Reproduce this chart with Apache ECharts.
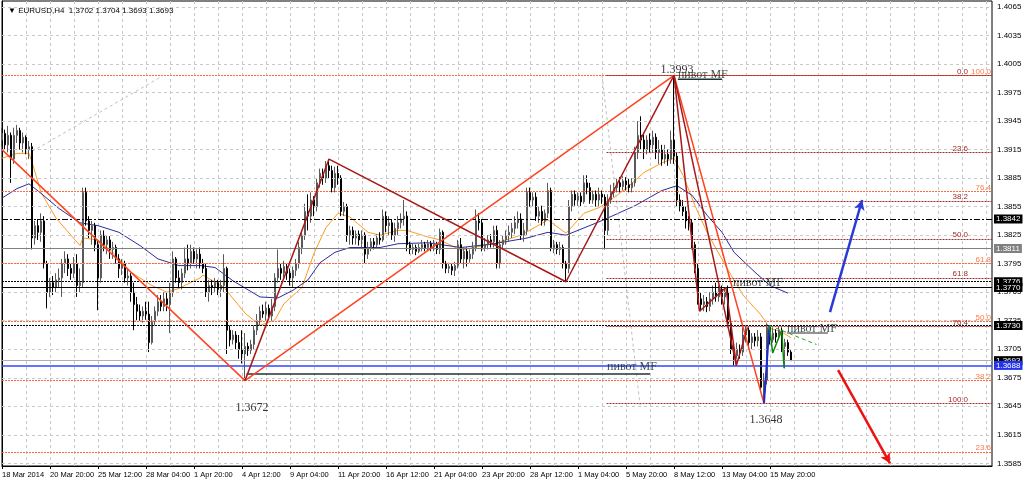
<!DOCTYPE html>
<html><head><meta charset="utf-8">
<script src="https://cdn.jsdelivr.net/npm/echarts@6/dist/echarts.min.js"></script>
<style>html,body{margin:0;padding:0;background:#fff}#c{width:1024px;height:482px}</style>
</head><body><div id="c"></div>
<script>
// ---------- DATA ----------
const title = 'EURUSD,H4  1.3702 1.3704 1.3693 1.3693';
const tickLabels = ['18 Mar 2014','20 Mar 20:00','25 Mar 12:00','28 Mar 04:00','1 Apr 20:00','4 Apr 12:00','9 Apr 04:00','11 Apr 20:00','16 Apr 12:00','21 Apr 04:00','23 Apr 20:00','28 Apr 12:00','1 May 04:00','5 May 20:00','8 May 12:00','13 May 04:00','15 May 20:00'];
const priceTicks = [1.3585,1.3615,1.3645,1.3675,1.3705,1.3735,1.3765,1.3795,1.3825,1.3855,1.3885,1.3915,1.3945,1.3975,1.4005,1.4035,1.4065];
// [open, close, low, high]
const ohlc = [
[1.3925,1.3932,1.3918,1.3938],[1.3932,1.3920,1.3915,1.3936],[1.3920,1.3930,1.3912,1.3940],[1.3930,1.3905,1.3880,1.3933],
[1.3905,1.3930,1.3900,1.3938],[1.3930,1.3935,1.3922,1.3941],[1.3935,1.3922,1.3915,1.3938],[1.3922,1.3928,1.3912,1.3933],
[1.3928,1.3915,1.3910,1.3930],[1.3915,1.3918,1.3905,1.3924],[1.3918,1.3822,1.3810,1.3922],[1.3822,1.3835,1.3815,1.3840],
[1.3835,1.3828,1.3820,1.3842],[1.3828,1.3840,1.3818,1.3848],[1.3840,1.3795,1.3790,1.3845],[1.3795,1.3765,1.3748,1.3798],
[1.3765,1.3775,1.3760,1.3780],[1.3775,1.3770,1.3762,1.3782],[1.3770,1.3778,1.3765,1.3785],[1.3778,1.3780,1.3770,1.3790],
[1.3780,1.3795,1.3760,1.3800],[1.3795,1.3800,1.3785,1.3808],[1.3800,1.3790,1.3782,1.3805],[1.3790,1.3785,1.3778,1.3795],
[1.3785,1.3795,1.3780,1.3802],[1.3795,1.3772,1.3760,1.3805],[1.3772,1.3775,1.3765,1.3790],[1.3775,1.3870,1.3770,1.3875],
[1.3870,1.3840,1.3835,1.3875],[1.3840,1.3830,1.3822,1.3845],[1.3830,1.3835,1.3815,1.3840],[1.3835,1.3815,1.3808,1.3838],
[1.3815,1.3780,1.3746,1.3820],[1.3780,1.3825,1.3775,1.3830],[1.3825,1.3815,1.3808,1.3830],[1.3815,1.3820,1.3805,1.3825],
[1.3820,1.3810,1.3800,1.3824],[1.3810,1.3812,1.3800,1.3818],[1.3812,1.3800,1.3795,1.3815],[1.3800,1.3790,1.3780,1.3805],
[1.3790,1.3795,1.3783,1.3800],[1.3795,1.3780,1.3775,1.3798],[1.3780,1.3782,1.3772,1.3790],[1.3782,1.3765,1.3755,1.3785],
[1.3765,1.3752,1.3725,1.3775],[1.3752,1.3745,1.3735,1.3760],[1.3745,1.3740,1.3735,1.3752],[1.3740,1.3745,1.3733,1.3750],
[1.3745,1.3742,1.3736,1.3755],[1.3742,1.3712,1.3702,1.3755],[1.3712,1.3735,1.3710,1.3740],[1.3735,1.3745,1.3730,1.3750],
[1.3745,1.3755,1.3740,1.3762],[1.3755,1.3750,1.3745,1.3762],[1.3750,1.3758,1.3745,1.3765],[1.3758,1.3752,1.3745,1.3765],
[1.3752,1.3765,1.3722,1.3775],[1.3765,1.3800,1.3760,1.3808],[1.3800,1.3780,1.3775,1.3802],[1.3780,1.3775,1.3770,1.3788],
[1.3775,1.3785,1.3768,1.3790],[1.3785,1.3800,1.3780,1.3812],[1.3800,1.3795,1.3788,1.3815],[1.3795,1.3808,1.3790,1.3815],
[1.3808,1.3800,1.3795,1.3812],[1.3800,1.3805,1.3790,1.3810],[1.3805,1.3795,1.3790,1.3812],[1.3795,1.3790,1.3785,1.3800],
[1.3790,1.3765,1.3760,1.3795],[1.3765,1.3772,1.3755,1.3778],[1.3772,1.3770,1.3762,1.3778],[1.3770,1.3775,1.3765,1.3780],
[1.3775,1.3768,1.3762,1.3778],[1.3768,1.3772,1.3760,1.3778],[1.3772,1.3790,1.3765,1.3805],[1.3790,1.3725,1.3700,1.3792],
[1.3725,1.3715,1.3708,1.3730],[1.3715,1.3720,1.3710,1.3725],[1.3720,1.3712,1.3705,1.3724],[1.3712,1.3705,1.3695,1.3720],
[1.3705,1.3700,1.3690,1.3725],[1.3700,1.3708,1.3672,1.3722],[1.3708,1.3704,1.3698,1.3712],[1.3704,1.3710,1.3700,1.3715],
[1.3710,1.3725,1.3705,1.3730],[1.3725,1.3735,1.3720,1.3742],[1.3735,1.3745,1.3730,1.3750],[1.3745,1.3742,1.3738,1.3752],
[1.3742,1.3748,1.3735,1.3755],[1.3748,1.3740,1.3735,1.3752],[1.3740,1.3750,1.3735,1.3758],[1.3750,1.3780,1.3745,1.3785],
[1.3780,1.3790,1.3775,1.3810],[1.3790,1.3785,1.3778,1.3795],[1.3785,1.3792,1.3780,1.3798],[1.3792,1.3785,1.3778,1.3795],
[1.3785,1.3780,1.3772,1.3790],[1.3780,1.3788,1.3770,1.3792],[1.3788,1.3795,1.3782,1.3800],[1.3795,1.3812,1.3790,1.3818],
[1.3812,1.3825,1.3805,1.3830],[1.3825,1.3850,1.3820,1.3858],[1.3850,1.3845,1.3830,1.3868],[1.3845,1.3862,1.3838,1.3870],
[1.3862,1.3855,1.3845,1.3866],[1.3855,1.3880,1.3850,1.3885],[1.3880,1.3890,1.3875,1.3895],[1.3890,1.3885,1.3878,1.3895],
[1.3885,1.3898,1.3880,1.3903],[1.3898,1.3893,1.3885,1.3905],[1.3893,1.3875,1.3870,1.3898],[1.3875,1.3890,1.3870,1.3897],
[1.3890,1.3885,1.3878,1.3898],[1.3885,1.3850,1.3845,1.3888],[1.3850,1.3855,1.3845,1.3860],[1.3855,1.3825,1.3818,1.3858],
[1.3825,1.3830,1.3815,1.3835],[1.3830,1.3822,1.3815,1.3834],[1.3822,1.3826,1.3815,1.3830],[1.3826,1.3820,1.3814,1.3830],
[1.3820,1.3825,1.3812,1.3830],[1.3825,1.3805,1.3795,1.3828],[1.3805,1.3812,1.3800,1.3818],[1.3812,1.3818,1.3808,1.3822],
[1.3818,1.3815,1.3810,1.3822],[1.3815,1.3822,1.3812,1.3826],[1.3822,1.3820,1.3815,1.3828],[1.3820,1.3845,1.3818,1.3852],
[1.3845,1.3835,1.3828,1.3850],[1.3835,1.3838,1.3825,1.3845],[1.3838,1.3825,1.3820,1.3842],[1.3825,1.3832,1.3818,1.3838],
[1.3832,1.3838,1.3825,1.3845],[1.3838,1.3842,1.3832,1.3848],[1.3842,1.3845,1.3835,1.3862],[1.3845,1.3815,1.3808,1.3850],
[1.3815,1.3810,1.3805,1.3818],[1.3810,1.3812,1.3805,1.3816],[1.3812,1.3808,1.3804,1.3815],[1.3808,1.3812,1.3806,1.3816],
[1.3812,1.3815,1.3808,1.3820],[1.3815,1.3812,1.3808,1.3818],[1.3812,1.3816,1.3809,1.3820],[1.3816,1.3813,1.3808,1.3819],
[1.3813,1.3815,1.3808,1.3820],[1.3815,1.3810,1.3805,1.3818],[1.3810,1.3828,1.3805,1.3832],[1.3828,1.3795,1.3790,1.3830],
[1.3795,1.3790,1.3785,1.3798],[1.3790,1.3792,1.3785,1.3796],[1.3792,1.3788,1.3783,1.3795],[1.3788,1.3793,1.3782,1.3797],
[1.3793,1.3815,1.3790,1.3820],[1.3815,1.3800,1.3795,1.3822],[1.3800,1.3808,1.3790,1.3812],[1.3808,1.3800,1.3792,1.3812],
[1.3800,1.3805,1.3796,1.3810],[1.3805,1.3812,1.3800,1.3818],[1.3812,1.3840,1.3808,1.3852],[1.3840,1.3838,1.3830,1.3848],
[1.3838,1.3812,1.3808,1.3842],[1.3812,1.3815,1.3808,1.3822],[1.3815,1.3820,1.3810,1.3825],[1.3820,1.3818,1.3812,1.3826],
[1.3818,1.3830,1.3812,1.3835],[1.3830,1.3795,1.3790,1.3835],[1.3795,1.3815,1.3790,1.3820],[1.3815,1.3820,1.3810,1.3825],
[1.3820,1.3825,1.3815,1.3830],[1.3825,1.3828,1.3818,1.3835],[1.3828,1.3832,1.3822,1.3838],[1.3832,1.3838,1.3826,1.3845],
[1.3838,1.3842,1.3832,1.3850],[1.3842,1.3825,1.3820,1.3848],[1.3825,1.3830,1.3818,1.3838],[1.3830,1.3870,1.3825,1.3875],
[1.3870,1.3862,1.3855,1.3875],[1.3862,1.3865,1.3855,1.3870],[1.3865,1.3845,1.3840,1.3870],[1.3845,1.3850,1.3838,1.3855],
[1.3850,1.3840,1.3835,1.3856],[1.3840,1.3848,1.3835,1.3852],[1.3848,1.3872,1.3843,1.3880],[1.3872,1.3812,1.3808,1.3875],
[1.3812,1.3815,1.3806,1.3820],[1.3815,1.3810,1.3805,1.3818],[1.3810,1.3812,1.3804,1.3818],[1.3812,1.3795,1.3790,1.3815],
[1.3795,1.3790,1.3776,1.3798],[1.3790,1.3855,1.3785,1.3862],[1.3855,1.3868,1.3850,1.3872],[1.3868,1.3862,1.3856,1.3872],
[1.3862,1.3866,1.3856,1.3870],[1.3866,1.3860,1.3855,1.3870],[1.3860,1.3880,1.3858,1.3888],[1.3880,1.3875,1.3868,1.3888],
[1.3875,1.3862,1.3858,1.3880],[1.3862,1.3868,1.3858,1.3872],[1.3868,1.3862,1.3855,1.3872],[1.3862,1.3868,1.3855,1.3875],
[1.3868,1.3865,1.3858,1.3872],[1.3865,1.3830,1.3810,1.3868],[1.3830,1.3862,1.3825,1.3868],[1.3862,1.3870,1.3858,1.3878],
[1.3870,1.3875,1.3865,1.3880],[1.3875,1.3880,1.3870,1.3885],[1.3880,1.3876,1.3870,1.3886],[1.3876,1.3882,1.3872,1.3887],
[1.3882,1.3878,1.3872,1.3886],[1.3878,1.3875,1.3870,1.3884],[1.3875,1.3880,1.3870,1.3885],[1.3880,1.3912,1.3876,1.3918],
[1.3912,1.3930,1.3905,1.3945],[1.3930,1.3925,1.3915,1.3950],[1.3925,1.3915,1.3905,1.3932],[1.3915,1.3925,1.3910,1.3930],
[1.3925,1.3920,1.3912,1.3932],[1.3920,1.3928,1.3912,1.3935],[1.3928,1.3912,1.3905,1.3932],[1.3912,1.3915,1.3900,1.3925],
[1.3915,1.3905,1.3898,1.3920],[1.3905,1.3910,1.3900,1.3920],[1.3910,1.3905,1.3898,1.3915],[1.3905,1.3925,1.3900,1.3935],
[1.3925,1.3908,1.3900,1.3993],[1.3908,1.3862,1.3855,1.3912],[1.3862,1.3855,1.3850,1.3868],[1.3855,1.3850,1.3845,1.3862],
[1.3850,1.3840,1.3832,1.3855],[1.3840,1.3838,1.3830,1.3845],[1.3838,1.3815,1.3810,1.3842],[1.3815,1.3790,1.3785,1.3818],
[1.3790,1.3758,1.3752,1.3795],[1.3758,1.3752,1.3745,1.3765],[1.3752,1.3755,1.3745,1.3762],[1.3755,1.3750,1.3744,1.3760],
[1.3750,1.3758,1.3745,1.3765],[1.3758,1.3765,1.3752,1.3772],[1.3765,1.3760,1.3755,1.3775],[1.3760,1.3768,1.3755,1.3772],
[1.3768,1.3760,1.3752,1.3772],[1.3760,1.3765,1.3752,1.3770],[1.3765,1.3732,1.3728,1.3772],[1.3732,1.3705,1.3700,1.3735],
[1.3705,1.3698,1.3688,1.3712],[1.3698,1.3705,1.3695,1.3712],[1.3705,1.3702,1.3695,1.3710],[1.3702,1.3720,1.3698,1.3728],
[1.3720,1.3725,1.3712,1.3730],[1.3725,1.3712,1.3705,1.3728],[1.3712,1.3718,1.3705,1.3722],[1.3718,1.3714,1.3708,1.3722],
[1.3714,1.3718,1.3708,1.3725],[1.3718,1.3665,1.3660,1.3722],[1.3665,1.3672,1.3648,1.3680],[1.3672,1.3728,1.3668,1.3732],
[1.3728,1.3715,1.3710,1.3730],[1.3715,1.3722,1.3712,1.3728],[1.3722,1.3718,1.3712,1.3726],[1.3718,1.3725,1.3715,1.3729],
[1.3725,1.3708,1.3702,1.3728],[1.3708,1.3712,1.3685,1.3716],[1.3712,1.3702,1.3698,1.3715],[1.3702,1.3693,1.3693,1.3704]
];
// moving averages [barIndex, price]
const maFast = [[0,1.3906],[5,1.3911],[9,1.3911],[10,1.3902],[13,1.3870],[18,1.3843],[26,1.3814],[27,1.3822],[32,1.3820],[37,1.3807],[43,1.3786],[50,1.3772],[55,1.3765],[59,1.3769],[66,1.3780],[67,1.3783],[74,1.3770],[81,1.3743],[86,1.3730],[91,1.3736],[94,1.3753],[100,1.3770],[104,1.3806],[108,1.3833],[112,1.3848],[116,1.3844],[122,1.3828],[126,1.3825],[132,1.3830],[135,1.3830],[142,1.3823],[146,1.3820],[153,1.3809],[157,1.3812],[164,1.3816],[173,1.3825],[182,1.3841],[188,1.3827],[194,1.3848],[199,1.3854],[202,1.3860],[208,1.3874],[214,1.3891],[220,1.3901],[224,1.3906],[227,1.3888],[231,1.3856],[235,1.3828],[238,1.3811],[243,1.3783],[247,1.3762],[253,1.3741],[256,1.3727],[260,1.3723],[263,1.3717]];
const maSlow = [[0,1.3864],[5,1.3874],[9,1.3879],[13,1.3869],[19,1.3853],[26,1.3838],[32,1.3835],[39,1.3828],[46,1.3814],[52,1.3800],[59,1.3793],[66,1.3793],[71,1.3791],[77,1.3777],[86,1.3760],[92,1.3759],[97,1.3767],[102,1.3778],[106,1.3796],[111,1.3807],[116,1.3812],[126,1.3812],[132,1.3816],[142,1.3817],[153,1.3812],[164,1.3816],[175,1.3822],[182,1.3828],[188,1.3825],[199,1.3839],[204,1.3846],[211,1.3856],[220,1.3872],[225,1.3877],[230,1.3867],[235,1.3846],[240,1.3828],[244,1.3807],[251,1.3786],[256,1.3772],[262,1.3764]];
// drawn objects [barIndex, price]
const redZigzag = [[0,1.3915],[81,1.3672],[224,1.3993],[254,1.3648]];
const darkRedZigzag = [[81,1.3672],[109,1.3905],[188,1.3776],[224,1.3993],[232.5,1.3745],[241.3,1.3770],[244.8,1.3688],[248.5,1.3728]];
const darkRedLong = [[224,1.3993],[244.8,1.3688]];
const blueLeg = [[254,1.3648],[255.8,1.3730]];
const greenZigzag = [[255.8,1.3730],[256.9,1.3701],[259.9,1.3725],[260.7,1.3685]];
const greenDashed = [[255.8,1.3730],[271.5,1.3710]];
const grayDiag1 = [[10,1.3913],[52.7,1.3991]];
const grayDiag2 = [[200,1.3993],[212.7,1.3646]];
const pivotLine = [[81.5,1.3679],[216,1.3679]];
const pivotUnder1 = [[225.3,1.3989],[240,1.3989]];
const pivotUnder3 = [[261.7,1.3722],[275.3,1.3722]];
const blueArrow = [[276,1.3744],[286.7,1.3862]];
const redArrow = [[278.7,1.3683],[296,1.3585]];
// fibonacci levels [price, label]
const orangeFib = [[1.3993,'100.0'],[1.3871,'76.4'],[1.3795,'61.8'],[1.3734,'50.0'],[1.3672,'38.2'],[1.3597,'23.6']];
const darkFib = [[1.3993,'0.0'],[1.3912,'23.6'],[1.3861,'38.2'],[1.3821,'50.0'],[1.3780,'61.8'],[1.3729,'76.4'],[1.3648,'100.0']];
const darkFibStart = 201.5;
// horizontal levels [price, color, style, width, boxColor]
const levels = [
  [1.3842,'#000000','dashdot',1,'#000000'],
  [1.3811,'#808080','solid',1,'#808080'],
  [1.3776,'#000000','dotted',1,'#000000'],
  [1.3770,'#000000','solid',1,'#000000'],
  [1.3730,'#000000','dotted',1,'#000000'],
  [1.3693,'#b0b0b0','solid',1,'#000000'],
  [1.3688,'#3344ff','solid',1.5,'#2233ee']
];
// text annotations [barIndex, price, text, kind]
const texts = [
  [225,1.3999,'1.3993','num'],[83.3,1.3643,'1.3672','num'],[254.7,1.3631,'1.3648','num'],
  [225.3,1.3994,'пивот МF','piv'],[243.7,1.3775,'пивот МF','piv'],[261.7,1.3726,'пивот МF','piv'],[201.7,1.3686,'пивот МF','piv']
];
// ---------- CHART ----------
const N = 331;
const Y_MIN = 1.35822, Y_MAX = 1.40713;
const categories = [];
for (let i = 0; i < N; i++) categories.push(i % 16 === 0 && i / 16 < tickLabels.length ? tickLabels[i / 16] : '');
const F = 'Liberation Sans';
const dashMap = {solid:'solid', dotted:[2,1], dashdot:[6,2,2,2]};

const chart = echarts.init(document.getElementById('c'));
function lineSeries(data, color, width, type, z) {
  return {type:'line', xAxisIndex:1, yAxisIndex:0, data, symbol:'none', silent:true, animation:false,
    lineStyle:{color, width, type: type || 'solid'}, z: z || 3};
}
const hLines = [];
orangeFib.forEach(([p, t]) => hLines.push({yAxis:p, lineStyle:{color:'#ff6a3d', type:[2,1], width:1},
  label:{show:true, position:'insideEndTop', formatter:t, color:'#ff7a45', fontSize:8, fontFamily:F, distance:[1,0]}}));
levels.forEach(([p, c, s, w, bg]) => hLines.push({yAxis:p, lineStyle:{color:c, type:dashMap[s], width:w},
  label:{show:true, position:'end', formatter:p.toFixed(4), color:'#fff', backgroundColor:bg, padding:[1,2,0,2], fontSize:8, fontFamily:F, distance:2}}));
darkFib.forEach(([p, t]) => hLines.push([{coord:[darkFibStart,p], lineStyle:{color:'#a52a2a', type:[2,1], width:1},
  label:{show:true, position:'insideEndTop', formatter:t, color:'#a52a2a', fontSize:8, fontFamily:F, distance:[24,0]}}, {coord:[330,p]}]));

const option = {
  animation:false,
  backgroundColor:'#ffffff',
  title:{text:'\u25BC ' + title, left:3, top:2, textStyle:{fontSize:8, fontWeight:'normal', color:'#000', fontFamily:F}},
  grid:{left:2, right:32, top:1, bottom:16, show:true, borderColor:'#000', borderWidth:1, containLabel:false, outerBoundsMode:'none'},
  xAxis:[
    {type:'category', data:categories, boundaryGap:false, axisLine:{lineStyle:{color:'#000'}},
     axisTick:{show:true, length:3, interval:(i)=> i % 16 === 0 && i <= 256, lineStyle:{color:'#000'}},
     axisLabel:{interval:0, align:'left', margin:5, fontSize:7.5, color:'#000', fontFamily:F},
     splitLine:{show:true, interval:(i)=> i % 8 === 0, lineStyle:{color:'#c8c8c8', type:[3,3], width:1}}},
    {type:'value', min:0, max:N-1, show:false}
  ],
  yAxis:{type:'value', position:'right', min:Y_MIN, max:Y_MAX, scale:true,
     axisLine:{show:true, lineStyle:{color:'#000'}},
     axisTick:{show:true, length:3, customValues:priceTicks, lineStyle:{color:'#000'}},
     axisLabel:{customValues:priceTicks, formatter:(v)=>v.toFixed(4), fontSize:8, color:'#000', fontFamily:F, margin:5},
     splitLine:{show:false}},
  series:[
    {type:'line', xAxisIndex:1, data:[], silent:true, z:1,
     markLine:{silent:true, symbol:'none', animation:false, precision:5,
       data: priceTicks.map(p => ({yAxis:p, lineStyle:{color:'#c8c8c8', type:[3,3], width:1}, label:{show:false}}))}},
    {type:'line', xAxisIndex:1, data:[], silent:true, z:2,
     markLine:{silent:true, symbol:'none', animation:false, precision:5, data:hLines}},
    {type:'candlestick', xAxisIndex:0, data:ohlc, barWidth:2, silent:true, z:4,
     itemStyle:{color:'#8c8c8c', color0:'#000000', borderColor:'#5a5a5a', borderColor0:'#000000', borderWidth:1}},
    lineSeries(maFast, '#ff9a1f', 1),
    lineSeries(maSlow, '#2b2ba0', 1),
    lineSeries(grayDiag1, '#c0c0c0', 1, [3,3]),
    lineSeries(grayDiag2, '#c0c0c0', 1, [3,3]),
    lineSeries(pivotLine, '#1f3333', 1.5),
    lineSeries(pivotUnder1, '#1f3333', 1.5),
    lineSeries(pivotUnder3, '#707070', 1.5),
    lineSeries(redZigzag, '#ff4422', 1.5, 'solid', 5),
    lineSeries(darkRedZigzag, '#a81818', 1.5, 'solid', 5),
    lineSeries(darkRedLong, '#a81818', 1.5, 'solid', 5),
    lineSeries(blueLeg, '#1a2ad0', 2, 'solid', 6),
    lineSeries(greenZigzag, '#0a8a0a', 1.5, 'solid', 6),
    lineSeries(greenDashed, '#2aa52a', 1, [4,3], 6),
    {type:'line', xAxisIndex:1, data:[], silent:true, z:6,
     markLine:{silent:true, animation:false, precision:5, symbol:['none','arrow'], symbolSize:[8,10],
       data:[
         [{coord:blueArrow[0], lineStyle:{color:'#2a3ad8', width:2.5, type:'solid'}}, {coord:blueArrow[1]}],
         [{coord:redArrow[0], lineStyle:{color:'#ee1111', width:2.5, type:'solid'}}, {coord:redArrow[1]}]
       ], label:{show:false}}},
    {type:'scatter', xAxisIndex:1, silent:true, z:7, symbolSize:0,
     data: texts.map(([i, p, t, k]) => ({value:[i, p], label:{show:true, formatter:t,
        position: k === 'num' ? 'inside' : 'right', distance:0,
        fontFamily:'Liberation Serif', fontSize: 12, color: k === 'num' ? '#000' : '#102222'}}))}
  ]
};
chart.setOption(option);
</script>
</body></html>
